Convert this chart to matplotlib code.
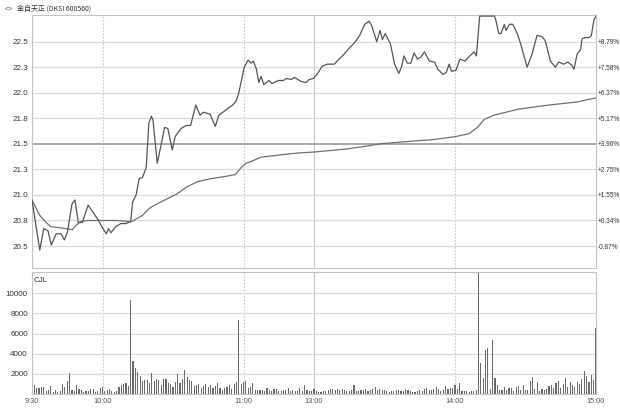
import matplotlib
matplotlib.use("Agg")
import matplotlib.pyplot as plt
import numpy as np

# ---------------- data ----------------
title = "金自天正 (DKSI 600560)"
price_ticks = [20.5, 20.75, 21.0, 21.25, 21.5, 21.75, 22.0, 22.25, 22.5]
price_labels = ["20.5", "20.8", "21.0", "21.3", "21.5", "21.8", "22.0", "22.3", "22.5"]
pct_labels = ["-0.87%", "+0.34%", "+1.55%", "+2.75%", "+3.96%", "+5.17%", "+6.37%", "+7.58%", "+8.79%"]
vol_ticks = [2000, 4000, 6000, 8000, 10000]
time_ticks = [0, 30, 90, 120, 180, 240]
time_labels = ["9:30", "10:00", "11:00", "13:00", "14:00", "15:00"]

price_t = [0, 3.3, 5, 6.8, 8.2, 10.3, 12.4, 13.8, 15.1, 17, 18.3, 19.7, 21.4, 23.9, 26.3,
           28.3, 29.7, 31.6, 32.6, 33.6, 35.6, 37.8, 39.9, 42, 42.8, 44.3, 45.6, 47, 48.6,
           49.7, 50.8, 51.5, 53.3, 55.3, 56.4, 57.8, 59.7, 60.9, 63.4, 65.6, 67.5, 69.7,
           71.5, 72.9, 75.8, 78, 79.5, 82.4, 85.4, 86.9, 88, 90.3, 92, 93.3, 94.2, 95.5,
           96.5, 97.5, 98.6, 100.8, 102.1, 104.8, 107, 108.3, 110.4, 111.7, 114.6, 116.6,
           118, 119.8, 121.3, 123.5, 125.7, 128.6, 130.7, 132.9, 135.1, 137.3, 139.4,
           141.6, 143.4, 144.5, 146.7, 148.1, 149.1, 150.3, 152.5, 154.3, 156.1, 157.2,
           158.3, 159.7, 161.2, 162.6, 164, 165.5, 167, 169.1, 171.3, 172.7, 174.9, 176.3,
           177.5, 178.5, 180.4, 182.1, 184.2, 186.3, 188.1, 189.1, 190.5, 196.8, 197.5,
           198.6, 199.6, 201, 201.7, 203.2, 204.6, 206.5, 207.9, 210.7, 212.8, 214.9, 217,
           218.4, 220.6, 222.7, 224.1, 226.2, 228, 229.7, 230.6, 232, 233.4, 234.1, 235.5,
           237, 238, 239.2, 240]
price_v = [20.95, 20.46, 20.67, 20.65, 20.51, 20.62, 20.62, 20.56, 20.64, 20.91, 20.95,
           20.73, 20.73, 20.90, 20.82, 20.75, 20.69, 20.62, 20.67, 20.63, 20.69, 20.72,
           20.72, 20.74, 20.93, 21.00, 21.16, 21.17, 21.27, 21.70, 21.77, 21.73, 21.31,
           21.53, 21.66, 21.65, 21.44, 21.57, 21.65, 21.68, 21.68, 21.88, 21.78, 21.81,
           21.79, 21.67, 21.78, 21.83, 21.88, 21.92, 22.00, 22.25, 22.32, 22.29, 22.31,
           22.23, 22.10, 22.16, 22.08, 22.12, 22.09, 22.12, 22.12, 22.14, 22.13, 22.15,
           22.11, 22.10, 22.13, 22.14, 22.18, 22.26, 22.28, 22.28, 22.33, 22.38, 22.44,
           22.49, 22.56, 22.67, 22.70, 22.66, 22.50, 22.61, 22.52, 22.58, 22.48, 22.28,
           22.19, 22.25, 22.36, 22.29, 22.29, 22.39, 22.33, 22.35, 22.40, 22.31, 22.30,
           22.23, 22.18, 22.20, 22.28, 22.21, 22.22, 22.33, 22.31, 22.36, 22.40, 22.36,
           22.75, 22.75, 22.70, 22.58, 22.58, 22.67, 22.61, 22.67, 22.67, 22.58, 22.48,
           22.25, 22.38, 22.56, 22.55, 22.51, 22.31, 22.25, 22.30, 22.28, 22.30, 22.27,
           22.23, 22.38, 22.42, 22.53, 22.54, 22.54, 22.56, 22.72, 22.75]

avg_t = [0, 3.3, 6, 8, 11.5, 14.4, 17.2, 18.6, 20.7, 24, 30, 35.6, 41.4, 42.5, 47, 50,
         53, 57.3, 61.7, 66, 70.4, 76.3, 82.1, 86.5, 88.7, 91, 93.5, 97.5, 105, 113,
         120, 134, 143, 148, 158, 170, 180, 186, 189.5, 192.5, 196.5, 207, 220, 232, 240]
avg_v = [20.95, 20.80, 20.73, 20.69, 20.68, 20.67, 20.66, 20.70, 20.74, 20.75, 20.75,
         20.75, 20.74, 20.74, 20.80, 20.87, 20.91, 20.96, 21.01, 21.08, 21.13, 21.16,
         21.18, 21.20, 21.26, 21.31, 21.33, 21.37, 21.39, 21.41, 21.42, 21.45, 21.48,
         21.50, 21.52, 21.54, 21.57, 21.60, 21.66, 21.74, 21.78, 21.84, 21.88, 21.91, 21.95]

# volume segments: (start minute, values per minute)
vol_seg1_start = 0
vol_seg1 = [1850, 900, 550, 600, 650, 700, 250, 350, 800, 200, 350, 150, 250, 950, 700,
            1250, 2100, 350, 300, 900, 450, 350, 200, 300, 250, 450, 500, 200, 300, 600,
            650, 250, 400, 500, 250, 200, 250, 650, 900, 1000, 1100, 800]
vol_seg2_start = 42
vol_seg2 = [9350, 3300, 2600, 2200, 1800, 1300, 1350, 1350, 1100, 2100, 1250, 1500, 1350,
            900, 1450, 1450, 1100, 1000, 700, 1200, 1950, 1100, 1450, 2400, 1700, 1400,
            1300, 750, 900, 1000, 600, 800, 950, 700, 900, 550, 800, 1100, 600, 400, 600,
            700, 900, 500, 1000, 1200]
vol_seg3_start = 88
vol_seg3 = [7350, 1000, 1150, 1300, 600, 700, 1100, 400, 400, 350, 350, 300, 550, 350,
            300, 500, 450, 250, 300, 350, 400, 550, 250, 350, 300, 300, 600, 300, 900,
            350, 250, 300, 500]
vol_seg4_start = 121
vol_seg4 = [300, 200, 150, 250, 300, 350, 450, 450, 400, 450, 350, 500, 400, 300, 250,
            350, 900, 250, 300, 400, 350, 500, 300, 350, 450, 700, 400, 500, 350, 400,
            250, 200, 300, 300, 350, 400, 250, 300, 450, 350, 250, 200, 150, 300, 350,
            250, 500, 600, 400, 350, 450, 700, 500, 300, 400, 800, 450, 600, 550, 900]
vol_seg5_start = 181
vol_seg5 = [500, 1050, 250, 300, 250, 200, 250, 300, 350, 12500, 3100, 1550, 4350, 4600,
            500, 5400, 1600, 900, 400, 350, 700, 400, 600, 600, 300, 700, 800, 350, 900,
            400, 350, 1300, 1700, 450, 1200, 300, 500, 400, 500, 800, 900, 550, 1100,
            1300, 600, 1000, 1600, 700, 1200, 900, 700, 1200, 1000, 1500, 2300, 1800,
            1200, 1900, 1400, 6600]

# ---------------- figure ----------------
W, H = 620, 409
fig = plt.figure(figsize=(W / 100, H / 100), dpi=100)
fig.patch.set_facecolor("white")


def rect(l, t, r, b):
    return [l / W, 1 - b / H, (r - l) / W, (b - t) / H]


FONT = "Liberation Sans"
NARROW = ["Liberation Sans Narrow", "Liberation Sans"]
TXT = "#333333"
GRID = "#dcdcdc"
SPINE = "#c4c4c4"

ax = fig.add_axes(rect(32, 15, 596, 268))
axv = fig.add_axes(rect(32, 272, 596, 394), sharex=ax)

for a in (ax, axv):
    for s in a.spines.values():
        s.set_color(SPINE)
        s.set_linewidth(0.8)
    a.set_xlim(0, 240)
    a.tick_params(length=0, labelsize=5.8, colors=TXT, pad=3)
    for tt in time_ticks[1:-1]:
        if tt == 120:
            a.axvline(tt, color="#c8c8c8", lw=0.8, zorder=0)
        else:
            a.axvline(tt, color="#c8c8c8", lw=0.8, ls=(0, (1.5, 1.5)), zorder=0)

# price panel
ax.set_ylim(20.285, 22.761)
ax.set_yticks(price_ticks)
ax.set_yticklabels(price_labels, fontfamily=FONT)
for pt in price_ticks:
    if pt == 21.5:
        ax.axhline(pt, color="#9a9a9a", lw=1.2, zorder=0)
    else:
        ax.axhline(pt, color=GRID, lw=0.9, zorder=0)
ax.tick_params(axis="x", labelbottom=False)

ax2 = ax.twinx()
ax2.set_ylim(ax.get_ylim())
ax2.set_yticks(price_ticks)
ax2.set_yticklabels(pct_labels, fontfamily=NARROW)
ax2.tick_params(length=0, labelsize=4.7, colors=TXT, pad=1.0)
for s in ax2.spines.values():
    s.set_visible(False)

ax.plot(avg_t, avg_v, color="#707070", lw=0.9, zorder=3)
ax.plot(price_t, price_v, color="#555555", lw=0.9, zorder=4)

# volume panel
axv.set_ylim(0, 12115)
axv.set_yticks(vol_ticks)
axv.set_yticklabels([str(v) for v in vol_ticks], fontfamily=FONT)
for v in vol_ticks:
    axv.axhline(v, color=GRID, lw=0.9, zorder=0)
for start, seg in [(vol_seg1_start, vol_seg1), (vol_seg2_start, vol_seg2),
                   (vol_seg3_start, vol_seg3), (vol_seg4_start, vol_seg4),
                   (vol_seg5_start, vol_seg5)]:
    xs = np.arange(start, start + len(seg))
    axv.bar(xs, seg, width=0.5, color="#6a6a6a", zorder=2)
axv.set_xticks(time_ticks)
axv.set_xticklabels(time_labels, fontfamily=FONT)
axv.tick_params(axis="x", labelsize=5.3, colors="#555555", pad=3)
axv.text(0.003, 0.93, "CJL", transform=axv.transAxes, fontsize=5.8, color=TXT,
         fontfamily=FONT, va="center", ha="left")

# title
fig.text(5 / W, 1 - 9 / H, "<>", fontsize=5, color="#555555", va="center",
         fontfamily=FONT)
fig.text(17 / W, 1 - 9 / H, title, fontsize=5, color=TXT, va="center",
         fontfamily=["Noto Sans CJK SC", "DejaVu Sans"])

fig.savefig("out.png", dpi=100, facecolor="white")
